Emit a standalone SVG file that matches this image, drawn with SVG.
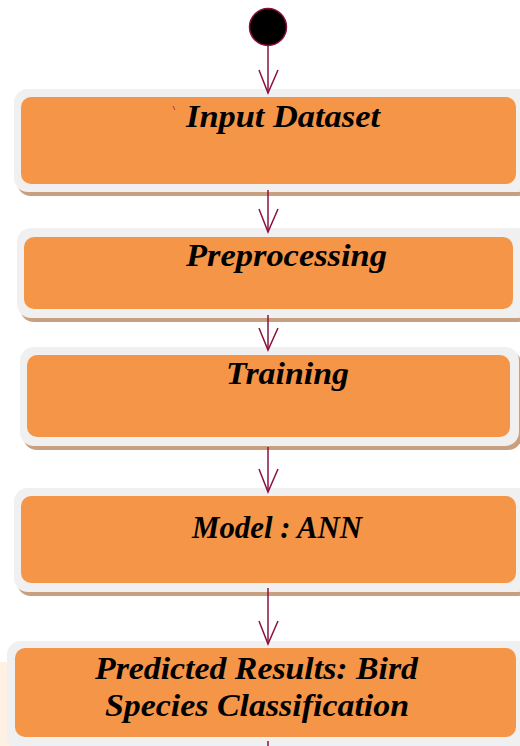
<svg xmlns="http://www.w3.org/2000/svg" width="520" height="746" viewBox="0 0 520 746">
<style>
.outer{fill:#F0F0F0}
.shadow{fill:#C9A07F}
.inner{fill:#F59547}
.lbl{font-family:"Liberation Serif",serif;font-weight:bold;font-style:italic;font-size:32px;fill:#000}
.conn line,.conn path{stroke:#8B1040;stroke-width:1.5;fill:none}
</style>
<rect width="520" height="746" fill="#fff"/>
<rect x="0" y="662" width="14" height="84" fill="#FEF0E2"/>
<g id="start">
<circle cx="268" cy="27" r="18.5" fill="#000" stroke="#8B1040" stroke-width="1.5"/>
</g>
<g id="n1">
<rect class="shadow" x="17" y="93" width="515" height="103" rx="14"/>
<rect class="outer" x="14" y="89" width="518" height="103" rx="14"/>
<rect class="inner" x="21" y="97" width="495" height="87" rx="10"/>
<path d="M173 106 L175 110" stroke="#C0304A" stroke-width="1"/>
<text class="lbl" x="186" y="127" textLength="194" lengthAdjust="spacingAndGlyphs">Input Dataset</text>
</g>
<g id="n2">
<rect class="shadow" x="20" y="232" width="512" height="90" rx="14"/>
<rect class="outer" x="17" y="228" width="515" height="90" rx="14"/>
<rect class="inner" x="24" y="237" width="489" height="72" rx="10"/>
<text class="lbl" x="186" y="266" textLength="201" lengthAdjust="spacingAndGlyphs">Preprocessing</text>
</g>
<g id="n3">
<rect class="shadow" x="23" y="351" width="499" height="99" rx="14"/>
<rect class="outer" x="20" y="347" width="499" height="99" rx="14"/>
<rect class="inner" x="27" y="355" width="483" height="82" rx="10"/>
<text class="lbl" x="226" y="384" textLength="123" lengthAdjust="spacingAndGlyphs">Training</text>
</g>
<g id="n4">
<rect class="shadow" x="17" y="492" width="515" height="104" rx="14"/>
<rect class="outer" x="14" y="488" width="518" height="104" rx="14"/>
<rect class="inner" x="21" y="496" width="495" height="87" rx="10"/>
<text class="lbl" x="192" y="538" textLength="170" lengthAdjust="spacingAndGlyphs">Model : ANN</text>
</g>
<g id="n5">
<rect class="shadow" x="10" y="645" width="522" height="110" rx="14"/>
<rect class="outer" x="7" y="641" width="525" height="110" rx="14"/>
<rect class="inner" x="15" y="648" width="501" height="89" rx="10"/>
<text class="lbl" x="95" y="679" textLength="323" lengthAdjust="spacingAndGlyphs">Predicted Results: Bird</text>
<text class="lbl" x="105" y="716" textLength="304" lengthAdjust="spacingAndGlyphs">Species Classification</text>
</g>
<g id="connectors" class="conn">
<line x1="268" y1="46" x2="268" y2="93"/>
<path d="M259 70 L268 93 L278 70"/>
<line x1="268" y1="190" x2="268" y2="232"/>
<path d="M259 209 L268 232 L278 209"/>
<line x1="268" y1="315" x2="268" y2="350"/>
<path d="M259 328 L268 350 L278 328"/>
<line x1="268" y1="447" x2="268" y2="492"/>
<path d="M259 469 L268 492 L278 469"/>
<line x1="268" y1="588" x2="268" y2="644"/>
<path d="M259 621 L268 644 L278 621"/>
<line x1="268" y1="741" x2="268" y2="746"/>
</g>
</svg>
